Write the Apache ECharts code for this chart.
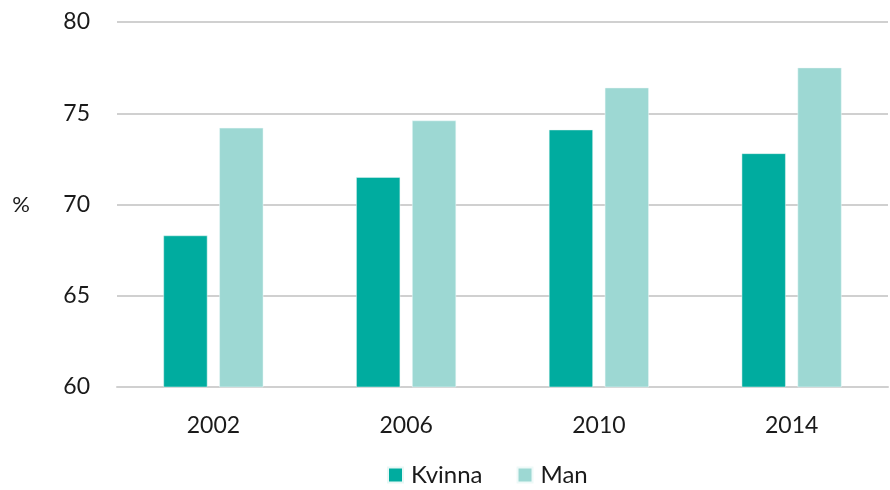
<!DOCTYPE html>
<html>
<head>
<meta charset="utf-8">
<script src="https://cdn.jsdelivr.net/npm/echarts@6/dist/echarts.min.js"></script>
<style>
  html, body { margin: 0; padding: 0; background: #fff; }
  #chart { width: 890px; height: 490px; }
</style>
</head>
<body>
<div id="chart"></div>
<script>
// Survey years on the x axis
const years = ['2002', '2006', '2010', '2014'];
// Share in percent, by sex
const kvinna = [68.3, 71.5, 74.1, 72.8];
const man = [74.2, 74.6, 76.4, 77.5];
// Value axis
const yMin = 60;
const yMax = 80;
const yStep = 5;

const FONT = 'Lato, "Noto Sans", sans-serif';
const INK = '#1a1a1a';

const chart = echarts.init(document.getElementById('chart'));
chart.setOption({
  animation: false,
  textStyle: { fontFamily: FONT },
  grid: { left: 117, right: 2, top: 22, bottom: 103 },
  legend: {
    bottom: -2,
    left: 382,
    itemWidth: 15,
    itemHeight: 15,
    itemGap: 34,
    icon: 'rect',
    textStyle: { fontFamily: FONT, fontSize: 24, color: INK, padding: [0, 0, 0, 3] },
    data: ['Kvinna', 'Man']
  },
  xAxis: {
    type: 'category',
    data: years,
    axisLine: { lineStyle: { color: '#d0d0d0', width: 2 } },
    axisTick: { show: false },
    axisLabel: { fontFamily: FONT, fontSize: 23, color: INK, margin: 27 }
  },
  yAxis: {
    type: 'value',
    min: yMin,
    max: yMax,
    interval: yStep,
    name: '%',
    nameLocation: 'middle',
    nameRotate: 0,
    nameGap: 87,
    nameTextStyle: { fontFamily: FONT, fontSize: 22, color: INK },
    axisLine: { show: false },
    axisTick: { show: false },
    axisLabel: { fontFamily: FONT, fontSize: 23, color: INK, margin: 27 },
    splitLine: { lineStyle: { color: '#d0d0d0', width: 2 } }
  },
  series: [
    {
      name: 'Kvinna',
      type: 'bar',
      data: kvinna,
      barWidth: 44,
      barGap: '27%',
      itemStyle: { color: '#00ac9f', borderColor: '#e8f7f5', borderWidth: 0.5 }
    },
    {
      name: 'Man',
      type: 'bar',
      data: man,
      barWidth: 44,
      itemStyle: { color: '#9dd8d3', borderColor: '#eef9f8', borderWidth: 0.5 }
    }
  ]
});
</script>
</body>
</html>
